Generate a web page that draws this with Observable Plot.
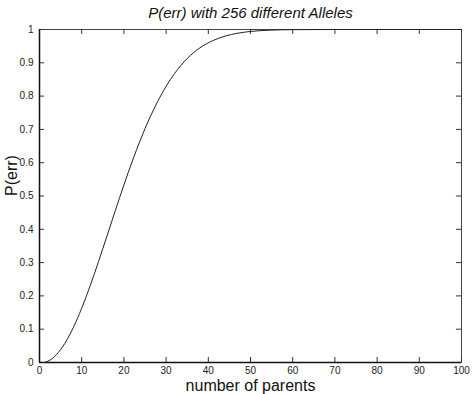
<!DOCTYPE html>
<html><head><meta charset="utf-8">
<script src="https://cdn.jsdelivr.net/npm/d3@7"></script>
<script src="https://cdn.jsdelivr.net/npm/@observablehq/plot@0.6"></script>
<style>body{margin:0;background:#fff}</style>
</head><body><div id="chart"></div>
<script>
const parents = [1,2,3,4,5,6,8,10,12,14,16,18,20,22,24,26,28,30,32,35,38,41,44,47,50,55,60,70,80,90,100];
const perr    = [0,0.0039,0.0117,0.0233,0.0385,0.0573,0.1046,0.163,0.2303,0.3036,0.3803,0.4576,0.5331,0.605,0.6713,0.7312,0.784,0.8294,0.8676,0.9129,0.9448,0.9662,0.9802,0.9889,0.9941,0.9982,0.9995,1,1,1,1];
const xTicks = [0,10,20,30,40,50,60,70,80,90,100];
const yTicks = [0,0.1,0.2,0.3,0.4,0.5,0.6,0.7,0.8,0.9,1];
const title = "P(err) with 256 different Alleles";
const xLabel = "number of parents";
const yLabel = "P(err)";

const data = parents.map((p,i)=>({p, v: perr[i]}));
const font = "'Liberation Sans', Arial, Helvetica, sans-serif";

const chart = Plot.plot({
  width: 474, height: 394,
  marginLeft: 39, marginRight: 13, marginTop: 29, marginBottom: 32,
  style: {fontFamily: font, background: "#fff"},
  x: {domain: [0,100]},
  y: {domain: [0,1]},
  marks: [
    Plot.frame({stroke: "#444", strokeWidth: 1}),
    Plot.ruleX(xTicks, {x: d=>d, y1: 0, y2: 0.015, stroke: "#333"}),
    Plot.ruleX(xTicks, {x: d=>d, y1: 1, y2: 0.985, stroke: "#333"}),
    Plot.ruleY(yTicks, {y: d=>d, x1: 0, x2: 1.2, stroke: "#333"}),
    Plot.ruleY(yTicks, {y: d=>d, x1: 100, x2: 98.8, stroke: "#333"}),
    Plot.ruleX([0], {stroke: "#111", strokeWidth: 1.5}),
    Plot.ruleY([0], {stroke: "#111", strokeWidth: 1.5}),
    Plot.axisX(xTicks, {tickSize: 0, tickPadding: 4, fontSize: 10, fill: "#222", tickFormat: d=>String(d), label: null}),
    Plot.axisY(yTicks, {tickSize: 0, tickPadding: 6, fontSize: 10, fill: "#222", tickFormat: d=>String(d), label: null}),
    Plot.line(data, {x: "p", y: "v", curve: "monotone-x", stroke: "#222", strokeWidth: 1}),
    Plot.text([title], {frameAnchor: "top", dy: -16, fontSize: 15, fontStyle: "italic", fill: "#111", lineAnchor: "middle", text: d=>d}),
    Plot.text([xLabel], {frameAnchor: "bottom", dy: 23, fontSize: 16, fill: "#111", lineAnchor: "middle", text: d=>d}),
    Plot.text([yLabel], {frameAnchor: "left", dx: -28, rotate: -90, fontSize: 16, fill: "#111", lineAnchor: "middle", text: d=>d})
  ]
});
document.getElementById("chart").appendChild(chart);
</script>
</body></html>
